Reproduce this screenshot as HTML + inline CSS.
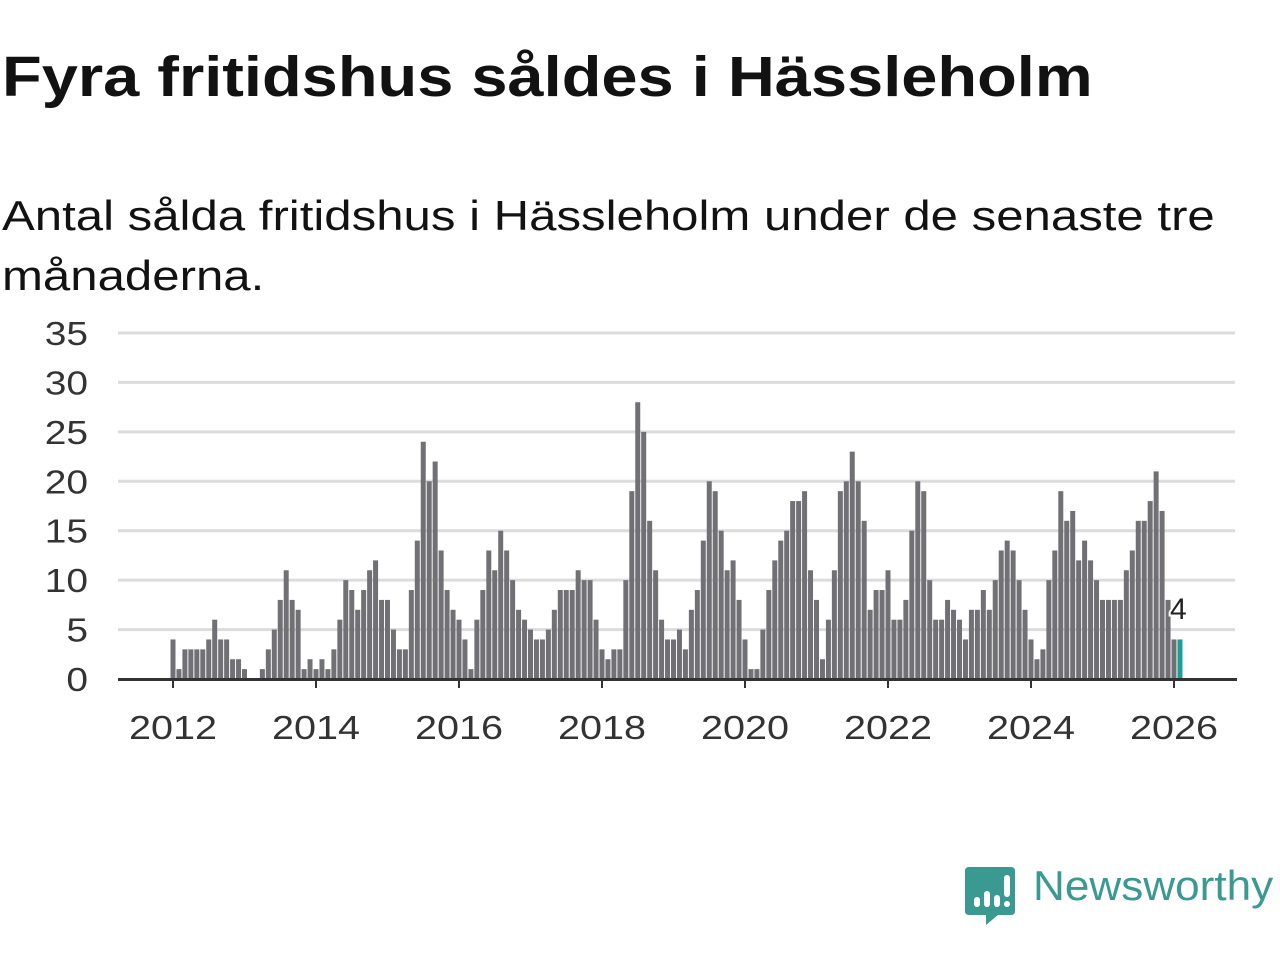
<!DOCTYPE html>
<html><head><meta charset="utf-8"><style>
body{margin:0;background:#fff;width:1280px;height:960px;overflow:hidden;font-family:"Liberation Sans",sans-serif;}
#title{position:absolute;left:2px;top:44px;font-size:57px;font-weight:bold;color:#121212;margin:0;transform-origin:0 0;transform:scaleX(1.14);white-space:nowrap;}
#sub{position:absolute;left:2px;top:186px;font-size:42px;color:#121212;line-height:60px;margin:0;transform-origin:0 0;transform:scaleX(1.17);white-space:nowrap;}
svg{position:absolute;left:0;top:0;}
</style></head><body>
<h1 id="title">Fyra fritidshus såldes i Hässleholm</h1>
<p id="sub">Antal sålda fritidshus i Hässleholm under de senaste tre<br>månaderna.</p>
<svg id="chart" width="1280" height="960"></svg>
<script>
const years=[2012,2013,2014,2015,2016,2017,2018,2019,2020,2021,2022,2023,2024,2025,2026];
const values=[
4,1,3,3,3,3,4,6,4,4,2,2,
1,0,0,1,3,5,8,11,8,7,1,2,
1,2,1,3,6,10,9,7,9,11,12,8,
8,5,3,3,9,14,24,20,22,13,9,7,
6,4,1,6,9,13,11,15,13,10,7,6,
5,4,4,5,7,9,9,9,11,10,10,6,
3,2,3,3,10,19,28,25,16,11,6,4,
4,5,3,7,9,14,20,19,15,11,12,8,
4,1,1,5,9,12,14,15,18,18,19,11,
8,2,6,11,19,20,23,20,16,7,9,9,
11,6,6,8,15,20,19,10,6,6,8,7,
6,4,7,7,9,7,10,13,14,13,10,7,
4,2,3,10,13,19,16,17,12,14,12,10,
8,8,8,8,11,13,16,16,18,21,17,8,
4,4];
const yTicks=[0,5,10,15,20,25,30,35];
const xTicks=[2012,2014,2016,2018,2020,2022,2024,2026];
const NS="http://www.w3.org/2000/svg";
const svg=document.getElementById('chart');
const y=v=>679-v*(346/35);
const x=m=>173+m*(143/24);
function el(t,a,p){const e=document.createElementNS(NS,t);for(const k in a)e.setAttribute(k,a[k]);(p||svg).appendChild(e);return e;}
yTicks.forEach(t=>{
  if(t>0){const g=el('line',{x1:118,x2:1235,y1:y(t),y2:y(t),stroke:'#dcdcdc','stroke-width':3});
  
  }
  const tx=el('text',{x:0,y:y(t)+12,transform:`translate(88,0) scale(1.18,1)`,'text-anchor':'end','font-size':33,fill:'#333','font-family':'Liberation Sans, sans-serif'});
  tx.textContent=t;
  
  
});
values.forEach((v,i)=>{
  const last=i===values.length-1;
  const r=el('rect',{x:x(i)-2.5,y:y(v),width:5,height:679-y(v),fill:last?'#1a9e95':'#717075'});
  
  
});
const ax=el('line',{x1:118,x2:1237,y1:679.5,y2:679.5,stroke:'#333','stroke-width':3});


xTicks.forEach(yr=>{
  const xx=x((yr-2012)*12);
  el('line',{x1:xx,x2:xx,y1:680,y2:688,stroke:'#333','stroke-width':2});
  const tx=el('text',{x:0,y:739,transform:`translate(${xx},0) scale(1.2,1)`,'text-anchor':'middle','font-size':33,fill:'#333','font-family':'Liberation Sans, sans-serif'});
  tx.textContent=yr;
  
  
});
const lbl=el('text',{x:x(values.length-1)-10,y:619,'font-size':30,fill:'#222',stroke:'#fff','stroke-width':4,'paint-order':'stroke','font-family':'Liberation Sans, sans-serif'});
lbl.textContent=values[values.length-1];


</script>
<svg width="60" height="62" style="left:964px;top:865px">
<path d="M5 2 H47 Q51 2 51 6 V46 Q51 50 47 50 H34 L22 60 L22 50 H5 Q1 50 1 46 V6 Q1 2 5 2 Z" fill="#3a9a92"/>
<rect x="10" y="32" width="6" height="10" rx="3" fill="#fff"/>
<rect x="20" y="26" width="6" height="16" rx="3" fill="#fff"/>
<rect x="30" y="30" width="6" height="12" rx="3" fill="#fff"/>
<rect x="40" y="10" width="6" height="22" rx="3" fill="#fff"/>
<circle cx="43" cy="39" r="3" fill="#fff"/>
</svg>
<div style="position:absolute;left:1033px;top:862px;font-size:42px;color:#3a9a92;transform-origin:0 0;transform:scaleX(1.05);white-space:nowrap;">Newsworthy</div>
</body></html>
